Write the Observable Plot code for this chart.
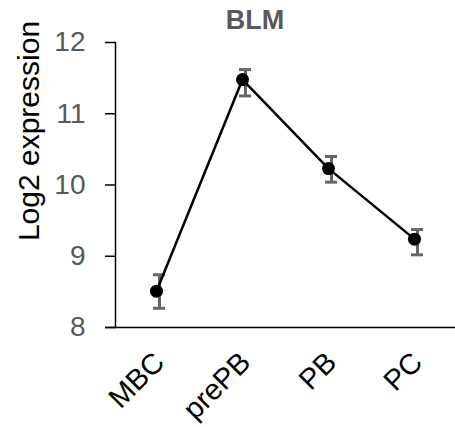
<!DOCTYPE html>
<html>
<head>
<meta charset="utf-8">
<script src="https://cdn.jsdelivr.net/npm/d3@7"></script>
<script src="https://cdn.jsdelivr.net/npm/@observablehq/plot@0.6"></script>
<style>
  html, body { margin: 0; padding: 0; background: white; }
  #wrap { position: relative; width: 455px; height: 427px; font-family: "Liberation Sans", Arial, sans-serif; }
  #title { position: absolute; top: 7px; left: 255px; transform: translateX(-50%); font-size: 27px; line-height: 27px; font-weight: bold; color: #595959; white-space: nowrap; }
  #chart svg { overflow: visible; }
</style>
</head>
<body>
<div id="wrap">
  <div id="chart"></div>
  <div id="title">BLM</div>
</div>
<script>
const groups = ["MBC", "prePB", "PB", "PC"];
const means = [8.51, 11.48, 10.23, 9.24];
const lower = [8.27, 11.25, 10.04, 9.02];
const upper = [8.74, 11.62, 10.40, 9.375];
const yTicks = [8, 9, 10, 11, 12];
const yLabel = "Log2 expression";

const data = groups.map((g, i) => ({group: g, mean: means[i], lo: lower[i], hi: upper[i]}));

const chart = Plot.plot({
  width: 455,
  height: 427,
  marginTop: 42,
  marginBottom: 100,
  marginLeft: 115,
  marginRight: 0,
  style: {fontFamily: '"Liberation Sans", Arial, sans-serif', background: "white", overflow: "visible"},
  x: {type: "point", domain: groups, padding: 0.46},
  y: {domain: [8, 12]},
  marks: [
    Plot.ruleY([8], {stroke: "black", strokeWidth: 1.5, insetLeft: -10}),
    Plot.frame({anchor: "left", stroke: "black", strokeWidth: 1.5}),
    Plot.axisY(yTicks, {tickSize: 10, text: null, label: null, stroke: "black", strokeWidth: 1.5}),
    Plot.axisY(yTicks, {tickSize: 0, tickPadding: 30, label: null, fontSize: 28, fill: "#595959", tickFormat: d => String(d)}),
    Plot.axisX({tickSize: 0, tickRotate: -45, tickPadding: 30, dx: 3, fontSize: 29, label: null, fill: "black"}),
    Plot.ruleX(data, {x: "group", y1: "lo", y2: "hi", dx: 3, stroke: "#666666", strokeWidth: 3}),
    Plot.ruleY(data, {x1: "group", x2: "group", y: "lo", dx: 3, insetLeft: -6, insetRight: -6, stroke: "#666666", strokeWidth: 3}),
    Plot.ruleY(data, {x1: "group", x2: "group", y: "hi", dx: 3, insetLeft: -6, insetRight: -6, stroke: "#666666", strokeWidth: 3}),
    Plot.line(data, {x: "group", y: "mean", stroke: "black", strokeWidth: 2.5}),
    Plot.dot(data, {x: "group", y: "mean", r: 6.5, fill: "black", stroke: null}),
    Plot.text([yLabel], {frameAnchor: "left", text: d => d, rotate: -90, dx: -86, dy: -54, fontSize: 30, fill: "black", lineAnchor: "middle", textAnchor: "middle"})
  ]
});
document.getElementById("chart").appendChild(chart);
</script>
</body>
</html>
